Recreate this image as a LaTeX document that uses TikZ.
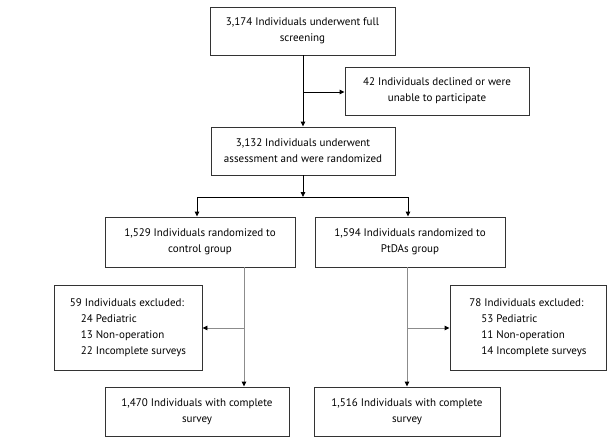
\documentclass[tikz,border=0pt]{standalone}
\usepackage{fontspec}
\setmainfont{PT Sans}
\usetikzlibrary{arrows.meta,positioning}
\begin{document}
\begin{tikzpicture}[x=1pt,y=-1pt,
  box/.style={draw=black!80,line width=0.9pt,inner sep=0pt,align=center,font=\fontsize{11}{16}\selectfont},
  conn/.style={line width=0.9pt,-{Triangle[length=5pt,width=4.5pt]}},
  gconn/.style={line width=0.9pt,draw=black!45,-{Triangle[length=5pt,width=4.5pt,fill=black,color=black]}}]
\useasboundingbox (0,0) rectangle (608,447);
\fill[white] (0,0) rectangle (608,447);
\node[box,minimum width=185pt,minimum height=48pt] (screen) at (302.5,31) {3,174 Individuals underwent full\\screening};
\node[box,minimum width=184pt,minimum height=48pt] (decl) at (437,91) {42 Individuals declined or were\\unable to participate};
\node[box,minimum width=184pt,minimum height=48pt] (rand) at (303,151) {3,132 Individuals underwent\\assessment and were randomized};
\node[box,minimum width=190pt,minimum height=50pt] (ctrl) at (200,242) {1,529 Individuals randomized to\\control group};
\node[box,minimum width=190pt,minimum height=50pt] (pt) at (410,242) {1,594 Individuals randomized to\\PtDAs group};
\node[box,minimum width=148pt,minimum height=85pt,align=left] (exl) at (128,327.5) {59 Individuals excluded:\\\hspace*{11pt}24 Pediatric\\\hspace*{11pt}13 Non-operation\\\hspace*{11pt}22 Incomplete surveys};
\node[box,minimum width=156pt,minimum height=85pt,align=left] (exr) at (528,327.5) {78 Individuals excluded:\\\hspace*{12pt}53 Pediatric\\\hspace*{12pt}11 Non-operation\\\hspace*{12pt}14 Incomplete surveys};
\node[box,minimum width=184pt,minimum height=49pt] (cl) at (197,411.5) {1,470 Individuals with complete\\survey};
\node[box,minimum width=186pt,minimum height=49pt] (pr) at (407,411.5) {1,516 Individuals with complete\\survey};
\coordinate (j1) at (303,92);
\coordinate (j2) at (303,197);
\coordinate (bl) at (197,197);
\coordinate (br) at (408,197);
\coordinate (jl) at (244,328);
\coordinate (jr) at (407,328);
\draw[conn] (screen.south -| j1) -- (rand.north -| j1);
\draw[conn] (j1) -- (decl.west |- j1);
\draw[conn] (rand.south -| j2) -- (j2);
\draw[line width=0.9pt] (bl) -- (br);
\draw[conn] (bl) -- (bl |- ctrl.north);
\draw[conn] (br) -- (br |- pt.north);
\draw[gconn] (ctrl.south -| jl) -- (cl.north -| jl);
\draw[gconn] (jl) -- (exl.east |- jl);
\draw[gconn] (pt.south -| jr) -- (pr.north -| jr);
\draw[gconn] (jr) -- (exr.west |- jr);
\end{tikzpicture}
\end{document}
